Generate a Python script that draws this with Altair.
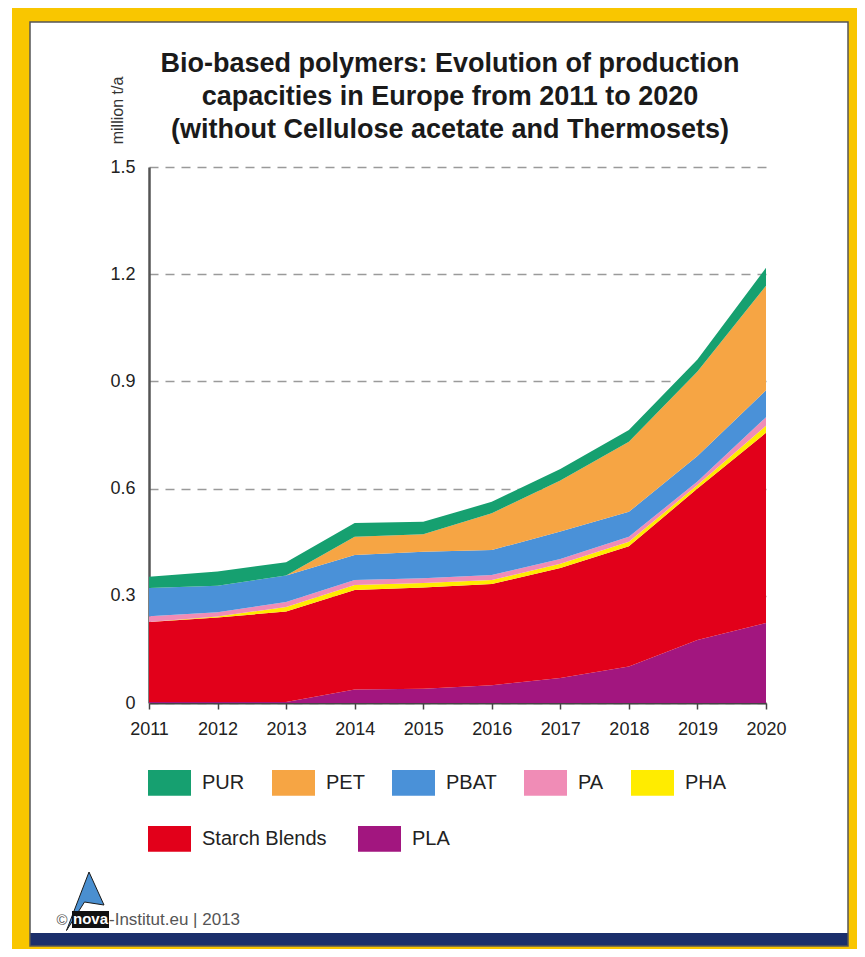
import altair as alt
import pandas as pd

years = [2011, 2012, 2013, 2014, 2015, 2016, 2017, 2018, 2019, 2020]
pla    = [0.003, 0.003, 0.003, 0.038, 0.040, 0.050, 0.070, 0.102, 0.176, 0.224]
starch = [0.224, 0.236, 0.253, 0.278, 0.283, 0.283, 0.308, 0.337, 0.424, 0.532]
pha    = [0.000, 0.003, 0.013, 0.014, 0.013, 0.011, 0.012, 0.012, 0.010, 0.020]
pa     = [0.016, 0.012, 0.014, 0.014, 0.013, 0.014, 0.013, 0.014, 0.010, 0.024]
pbat   = [0.079, 0.074, 0.074, 0.070, 0.074, 0.070, 0.077, 0.070, 0.071, 0.075]
pet    = [0.000, 0.000, 0.000, 0.051, 0.049, 0.103, 0.143, 0.196, 0.237, 0.293]
pur    = [0.031, 0.040, 0.037, 0.039, 0.035, 0.032, 0.032, 0.033, 0.033, 0.050]

legend_row1 = ["PUR", "PET", "PBAT", "PA", "PHA"]
legend_row2 = ["Starch Blends", "PLA"]
colors = {"PUR": "#16a070", "PET": "#f6a544", "PBAT": "#4a91d8", "PA": "#f08cb6",
          "PHA": "#ffec00", "Starch Blends": "#e2001a", "PLA": "#a2167f"}
stack_order = ["PLA", "Starch Blends", "PHA", "PA", "PBAT", "PET", "PUR"]
series = {"PLA": pla, "Starch Blends": starch, "PHA": pha, "PA": pa,
          "PBAT": pbat, "PET": pet, "PUR": pur}

rows = []
for name in stack_order:
    for yr, v in zip(years, series[name]):
        rows.append({"year": yr, "polymer": name, "value": v, "rank": stack_order.index(name)})
df = pd.DataFrame(rows)

title_lines = ["Bio-based polymers: Evolution of production",
               "capacities in Europe from 2011 to 2020",
               "(without Cellulose acetate and Thermosets)"]

FONT = "Liberation Sans"
all_names = legend_row1 + legend_row2

area = alt.Chart(df).mark_area(strokeWidth=0).encode(
    x=alt.X("year:Q",
            scale=alt.Scale(domain=[2011, 2020], nice=False, zero=False),
            axis=alt.Axis(values=years, format="d", title=None, grid=False,
                          tickSize=6, tickColor="#444", tickWidth=1.5,
                          domainColor="#444", domainWidth=2, labelFlush=False,
                          labelFontSize=18, labelFont=FONT, labelColor="#222",
                          labelPadding=11)),
    y=alt.Y("value:Q", stack="zero",
            scale=alt.Scale(domain=[0, 1.5], nice=False),
            axis=alt.Axis(values=[0, 0.3, 0.6, 0.9, 1.2, 1.5], format="~g",
                          title="million t/a", grid=True, gridDash=[9, 7],
                          gridColor="#9a9a9a", gridWidth=1.5, ticks=False,
                          domainColor="#555", domainWidth=2.5, labelFlush=False,
                          labelFontSize=18, labelFont=FONT, labelColor="#222",
                          labelPadding=14,
                          titleX=-32, titleY=-57, titleAngle=270,
                          titleBaseline="middle", titleAlign="center",
                          titleFontSize=16, titleFont=FONT,
                          titleFontWeight="normal", titleColor="#333")),
    color=alt.Color("polymer:N",
                    scale=alt.Scale(domain=all_names, range=[colors[n] for n in all_names]),
                    legend=None),
    order=alt.Order("rank:Q", sort="ascending"),
)


def legend_layer(names, y, pad):
    return alt.Chart(df).transform_filter(
        alt.FieldOneOfPredicate(field="polymer", oneOf=names)
    ).mark_square(opacity=0, filled=True).encode(
        color=alt.Color("polymer:N",
                        scale=alt.Scale(domain=names, range=[colors[n] for n in names]),
                        legend=alt.Legend(title=None, orient="none", legendX=-1, legendY=y,
                                          direction="horizontal", columns=len(names),
                                          symbolType="M-1,-0.6H1V0.6H-1Z", symbolSize=1849,
                                          symbolStrokeWidth=0, symbolOpacity=1,
                                          labelFontSize=20, labelFont=FONT, labelColor="#222",
                                          labelOffset=11, columnPadding=pad)))


leg1 = legend_layer(legend_row1, 594, 27)
leg2 = legend_layer(legend_row2, 650, 31)

deco_df = pd.DataFrame({"k": [0]})


def rect(x1, x2, y1, y2, color):
    return alt.Chart(deco_df).mark_rect(color=color).encode(
        x=alt.value(x1), x2=alt.value(x2), y=alt.value(y1), y2=alt.value(y2))


yellow = "#f9c600"
frame = [
    rect(-137, 708, -159, -145, yellow),
    rect(-137, 708, 779, 782, yellow),
    rect(-137, -119, -159, 782, yellow),
    rect(699, 708, -159, 782, yellow),
    rect(-119, 699, 766, 779, "#1b2f6b"),
]
border = alt.Chart(deco_df).mark_rect(fillOpacity=0, stroke="#555", strokeWidth=1.5).encode(
    x=alt.value(-119), x2=alt.value(699), y=alt.value(-145), y2=alt.value(779))

title_df = pd.DataFrame({"line": title_lines, "i": [0, 1, 2]})
title = alt.Chart(title_df).mark_text(font=FONT, fontSize=27, fontWeight="bold",
                                      color="#1a1a1a", align="center", baseline="middle").encode(
    x=alt.value(301),
    y=alt.Y("i:Q", scale=alt.Scale(domain=[0, 2], range=[-103, -37]), axis=None),
    text="line:N")

flag = alt.Chart(deco_df).mark_point(
    shape="M0.2,-1L0.7,0.1L0.05,0.0L-0.55,0.95Z", size=3600, filled=True,
    fill="#4a8fd0", stroke="#1a1a1a", strokeWidth=1, opacity=1
).encode(x=alt.value(-66), y=alt.value(735))

nova_box = rect(-77, -40, 744, 761, "#111")
nova_txt = alt.Chart(deco_df).mark_text(font=FONT, fontSize=15, fontWeight="bold",
                                        color="white", align="center", baseline="middle").encode(
    x=alt.value(-58.5), y=alt.value(752), text=alt.value("nova"))
copy_txt = alt.Chart(deco_df).mark_text(font=FONT, fontSize=15, color="#555",
                                        align="center", baseline="middle").encode(
    x=alt.value(-87), y=alt.value(753), text=alt.value("©"))
inst_txt = alt.Chart(deco_df).mark_text(font=FONT, fontSize=17, color="#555",
                                        align="left", baseline="middle").encode(
    x=alt.value(-40), y=alt.value(753), text=alt.value("-Institut.eu | 2013"))

chart = alt.layer(*frame, border, area, leg1, leg2, title, flag, nova_box, nova_txt,
                  copy_txt, inst_txt).properties(
    width=617, height=536,
    autosize=alt.AutoSizeParams(type="none"),
    padding={"left": 141, "top": 159, "right": 91, "bottom": 246},
    background="white",
).resolve_scale(y="independent", color="independent").configure_view(strokeWidth=0)

chart.save("out.html", embed_options={"renderer": "svg", "actions": False})
